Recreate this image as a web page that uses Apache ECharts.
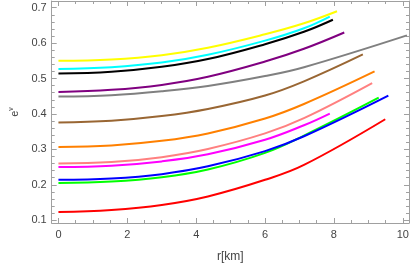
<!DOCTYPE html>
<html>
<head>
<meta charset="utf-8">
<script src="https://cdn.jsdelivr.net/npm/echarts@6/dist/echarts.min.js"></script>
<style>html,body{margin:0;padding:0;background:#fff}#c{width:415px;height:268px}</style>
</head>
<body>
<div id="c"></div>
<script>
// Tick labels
const xTicks = [0, 2, 4, 6, 8, 10];
const xMinorTicks = [0.5, 1, 1.5, 2.5, 3, 3.5, 4.5, 5, 5.5, 6.5, 7, 7.5, 8.5, 9, 9.5];
const yTicks = [0.1, 0.2, 0.3, 0.4, 0.5, 0.6, 0.7];
const yMinorTicks = [0.12, 0.14, 0.16, 0.18, 0.22, 0.24, 0.26, 0.28, 0.32, 0.34, 0.36, 0.38,
  0.42, 0.44, 0.46, 0.48, 0.52, 0.54, 0.56, 0.58, 0.62, 0.64, 0.66, 0.68, 0.72];

// Curves: radius (km) and e^nu values
const rRed = [0, 1.54, 3, 4.34, 6, 7.13, 9.49];
const vRed = [0.123, 0.129, 0.143, 0.167, 0.214, 0.256, 0.385];
const rGreen = [0, 1.54, 3, 4.34, 6, 7.13, 9.30];
const vGreen = [0.205, 0.209, 0.221, 0.243, 0.290, 0.339, 0.446];
const rBlue = [0, 1.54, 3, 4.34, 6, 7.13, 9.58];
const vBlue = [0.214, 0.218, 0.230, 0.252, 0.295, 0.337, 0.452];
const rMagenta = [0, 1.54, 3, 4.34, 6, 7.13, 7.88];
const vMagenta = [0.250, 0.254, 0.266, 0.286, 0.327, 0.368, 0.401];
const rPink = [0, 1.54, 3, 4.34, 6, 7.13, 9.11];
const vPink = [0.260, 0.264, 0.278, 0.301, 0.345, 0.388, 0.487];
const rOrange = [0, 1.54, 3, 4.34, 6, 7.13, 9.18];
const vOrange = [0.307, 0.311, 0.324, 0.345, 0.387, 0.428, 0.520];
const rBrown = [0, 1.54, 3, 4.34, 6, 7.13, 8.84];
const vBrown = [0.376, 0.381, 0.394, 0.414, 0.452, 0.492, 0.568];
const rGray = [0, 1.54, 3, 4.34, 6, 7.13, 10.12];
const vGray = [0.449, 0.453, 0.464, 0.479, 0.507, 0.532, 0.622];
const rPurple = [0, 1.54, 3, 4.34, 6, 7.13, 8.30];
const vPurple = [0.462, 0.468, 0.482, 0.505, 0.548, 0.584, 0.630];
const rBlack = [0, 1.54, 3, 4.34, 6, 7.13, 7.97];
const vBlack = [0.514, 0.519, 0.533, 0.555, 0.597, 0.632, 0.666];
const rCyan = [0, 1.54, 3, 4.34, 6, 7.13, 7.88];
const vCyan = [0.527, 0.532, 0.545, 0.567, 0.607, 0.642, 0.675];
const rYellow = [0, 1.54, 3, 4.34, 6, 7.13, 8.09];
const vYellow = [0.550, 0.554, 0.566, 0.587, 0.625, 0.656, 0.690];

const curves = [
  ['red', rRed, vRed, '#ff0000'],
  ['green', rGreen, vGreen, '#00ff00'],
  ['blue', rBlue, vBlue, '#0000ff'],
  ['magenta', rMagenta, vMagenta, '#ff00ff'],
  ['pink', rPink, vPink, '#ff8080'],
  ['orange', rOrange, vOrange, '#ff8000'],
  ['brown', rBrown, vBrown, '#996633'],
  ['gray', rGray, vGray, '#808080'],
  ['purple', rPurple, vPurple, '#800080'],
  ['black', rBlack, vBlack, '#000000'],
  ['cyan', rCyan, vCyan, '#00ffff'],
  ['yellow', rYellow, vYellow, '#ffff00']
];

const frameColor = '#a0a0a0';
const labelColor = '#444';
const font = 'Liberation Sans';
const xMin = -0.196, xMax = 10.18, yMin = 0.092, yMax = 0.719;

function xAx(pos, ticks, len, showLine, showLabel) {
  return {
    type: 'value', position: pos, min: xMin, max: xMax,
    axisLine: {show: showLine, onZero: false, lineStyle: {color: frameColor, width: 1}},
    axisTick: {show: true, inside: true, length: len, customValues: ticks, lineStyle: {color: frameColor}},
    axisLabel: {show: showLabel, customValues: xTicks, color: labelColor, fontFamily: font, fontSize: 11, margin: 6},
    splitLine: {show: false}
  };
}
function yAx(pos, ticks, len, showLine, showLabel) {
  return {
    type: 'value', position: pos, min: yMin, max: yMax,
    axisLine: {show: showLine, onZero: false, lineStyle: {color: frameColor, width: 1}},
    axisTick: {show: true, inside: true, length: len, customValues: ticks, lineStyle: {color: frameColor}},
    axisLabel: {show: showLabel, customValues: yTicks, color: labelColor, fontFamily: font, fontSize: 11, margin: 5,
      formatter: v => v.toFixed(1)},
    splitLine: {show: false}
  };
}

const xAxes = [
  xAx('bottom', xTicks, 5, true, true),
  xAx('bottom', xMinorTicks, 3, false, false),
  xAx('top', xTicks, 5, true, false),
  xAx('top', xMinorTicks, 3, false, false)
];
Object.assign(xAxes[0], {
  name: 'r[km]', nameLocation: 'middle', nameGap: 28,
  nameTextStyle: {color: labelColor, fontFamily: font, fontSize: 12}
});
const yAxes = [
  yAx('left', yTicks, 5, true, true),
  yAx('left', yMinorTicks, 3, false, false),
  yAx('right', yTicks, 5, true, false),
  yAx('right', yMinorTicks, 3, false, false)
];
Object.assign(yAxes[0], {
  name: '{e|e}{s|ν}', nameLocation: 'middle', nameGap: 27, nameRotate: 90,
  nameTextStyle: {
    color: labelColor, fontFamily: font, fontSize: 11,
    rich: {
      e: {fontSize: 11, color: labelColor, fontFamily: font},
      s: {fontSize: 7, color: labelColor, fontFamily: font, padding: [0, 0, 7, 0]}
    }
  }
});

const series = curves.map(c => ({
  name: c[0], type: 'line', xAxisIndex: 0, yAxisIndex: 0,
  data: c[1].map((r, i) => [r, c[2][i]]),
  showSymbol: false, smooth: 0.4, clip: true,
  lineStyle: {color: c[3], width: 2}, itemStyle: {color: c[3]},
  animation: false
}));

const chart = echarts.init(document.getElementById('c'), null, {renderer: 'canvas'});
chart.setOption({
  animation: false,
  backgroundColor: '#fff',
  grid: {left: 38, right: 6, top: 1, bottom: 36},
  xAxis: xAxes,
  yAxis: yAxes,
  series: series
});
</script>
</body>
</html>
